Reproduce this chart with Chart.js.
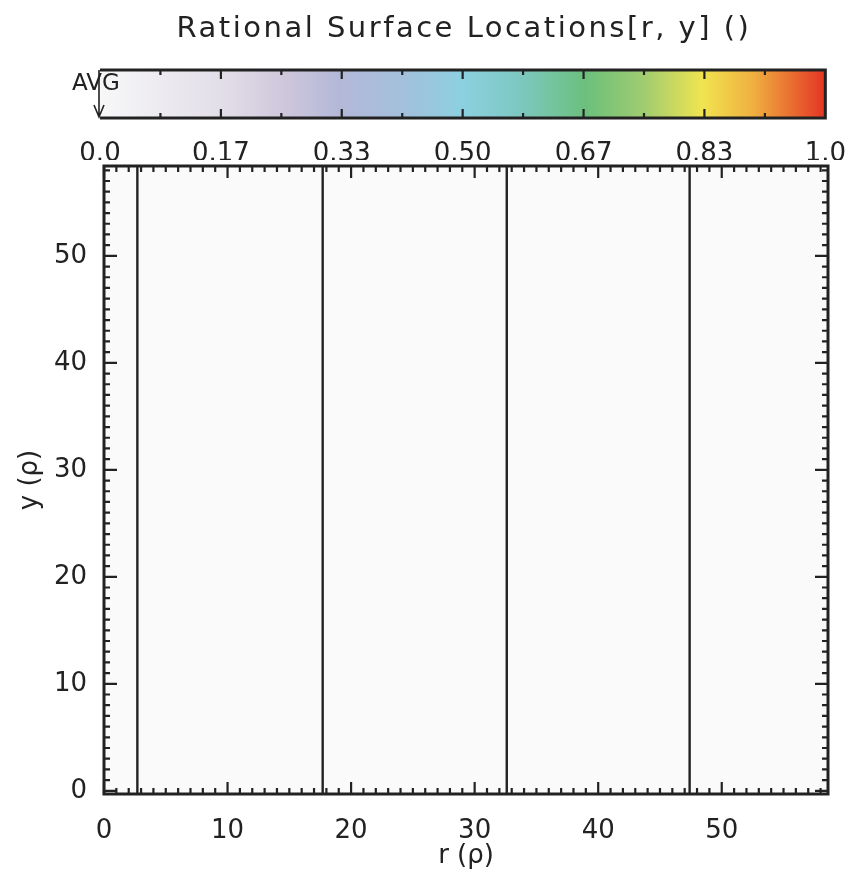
<!DOCTYPE html>
<html>
<head>
<meta charset="utf-8">
<script src="https://cdn.jsdelivr.net/npm/chart.js@4.4.0/dist/chart.umd.min.js"></script>
<style>
  html, body { margin: 0; padding: 0; background: #fff; }
  #wrap { position: relative; width: 859px; height: 873px; }
  canvas { position: absolute; left: 0; top: 0; }
</style>
</head>
<body>
<div id="wrap">
  <canvas id="mainChart" width="859" height="873"></canvas>
  <canvas id="barChart" width="859" height="160"></canvas>
</div>
<script>
// rational surface positions along r (rho)
const rationalR = [2.7, 17.7, 32.6, 47.4];
const rRange = [0, 58.6];
const yRange = [-0.3, 58.4];
const rTicks = [0, 10, 20, 30, 40, 50];
const yTicks = [0, 10, 20, 30, 40, 50];

// colour bar
const barTicks = [0, 0.1667, 0.3333, 0.5, 0.6667, 0.8333, 1];
const barTickLabels = ['0.0', '0.17', '0.33', '0.50', '0.67', '0.83', '1.0'];
const barMinorTicks = [0.0833, 0.25, 0.4167, 0.5833, 0.75, 0.9167];
const barStops = [0, 0.17, 0.25, 0.33, 0.42, 0.5, 0.58, 0.67, 0.75, 0.83, 0.9, 1];
const barColors = ['#f7f7f8', '#e2dee8', '#d0c8dc', '#b4b8d8', '#a2c0dc', '#8cd0e0',
  '#7cc8c0', '#6cc07c', '#a0cc70', '#f0e450', '#f0b040', '#e43424'];
const avgValue = 0;

const INK = '#222';
const FONT = 'DejaVu Sans';

// the IDL-style labels are spaced out a little
const spacing = (px) => ({
  id: 'spacing',
  beforeDraw(chart) { chart.ctx.letterSpacing = px; },
  beforeDatasetsDraw(chart) { chart.ctx.letterSpacing = '0px'; },
});

const frameAndTicks = {
  id: 'frameAndTicks',
  beforeDraw(chart) {
    const { ctx, chartArea: a } = chart;
    ctx.save();
    ctx.fillStyle = '#fafafa';
    ctx.fillRect(a.left, a.top, a.right - a.left, a.bottom - a.top);
    ctx.restore();
  },
  afterDraw(chart) {
    const { ctx, chartArea: a, scales } = chart;
    ctx.save();
    ctx.strokeStyle = INK;
    ctx.lineWidth = 2.2;
    const x = scales.x;
    const y = scales.y;
    for (let v = Math.ceil(x.min); v <= x.max; v += 1) {
      const px = x.getPixelForValue(v);
      const len = v % 10 === 0 ? 12 : 6;
      ctx.beginPath();
      ctx.moveTo(px, a.bottom); ctx.lineTo(px, a.bottom - len);
      ctx.moveTo(px, a.top); ctx.lineTo(px, a.top + len);
      ctx.stroke();
    }
    for (let v = Math.ceil(y.min); v <= y.max; v += 1) {
      const py = y.getPixelForValue(v);
      const len = v % 10 === 0 ? 13 : 6;
      ctx.beginPath();
      ctx.moveTo(a.left, py); ctx.lineTo(a.left + len, py);
      ctx.moveTo(a.right, py); ctx.lineTo(a.right - len, py);
      ctx.stroke();
    }
    ctx.lineWidth = 3;
    ctx.strokeRect(a.left, a.top, a.right - a.left, a.bottom - a.top);
    ctx.restore();
  },
};

new Chart(document.getElementById('mainChart'), {
  type: 'line',
  data: {
    datasets: rationalR.map((r) => ({
      data: [{ x: r, y: yRange[0] }, { x: r, y: yRange[1] }],
      borderColor: INK,
      borderWidth: 2.4,
      pointRadius: 0,
    })),
  },
  options: {
    responsive: false,
    animation: false,
    layout: { padding: { top: 166, right: 31, left: 0, bottom: 0 } },
    plugins: { legend: { display: false }, tooltip: { enabled: false } },
    scales: {
      x: {
        type: 'linear',
        min: rRange[0],
        max: rRange[1],
        afterBuildTicks: (s) => { s.ticks = rTicks.map((v) => ({ value: v })); },
        afterFit: (s) => { s.height = 79; },
        grid: { display: false },
        border: { display: false },
        ticks: { color: INK, font: { family: FONT, size: 26 }, padding: 14, maxRotation: 0 },
        title: { display: true, text: 'r (ρ)', color: INK, font: { family: FONT, size: 26 }, padding: { bottom: 1 } },
      },
      y: {
        type: 'linear',
        min: yRange[0],
        max: yRange[1],
        afterBuildTicks: (s) => { s.ticks = yTicks.map((v) => ({ value: v })); },
        afterFit: (s) => { s.width = 104; },
        grid: { display: false },
        border: { display: false },
        ticks: { color: INK, font: { family: FONT, size: 26 }, padding: 9 },
        title: { display: true, text: 'y (ρ)', color: INK, font: { family: FONT, size: 26 }, padding: { top: 15 } },
      },
    },
  },
  plugins: [frameAndTicks],
});

const colourBar = {
  id: 'colourBar',
  beforeDatasetsDraw(chart) {
    const { ctx, chartArea: a, scales } = chart;
    const x = scales.x;
    const g = ctx.createLinearGradient(x.getPixelForValue(0), 0, x.getPixelForValue(1), 0);
    barStops.forEach((s, i) => g.addColorStop(s, barColors[i]));
    ctx.save();
    ctx.fillStyle = g;
    ctx.fillRect(a.left, a.top, a.right - a.left, a.bottom - a.top);
    ctx.restore();
  },
  afterDraw(chart) {
    const { ctx, chartArea: a, scales } = chart;
    const x = scales.x;
    ctx.save();
    ctx.strokeStyle = INK;
    ctx.lineWidth = 2.2;
    const tick = (v, len) => {
      const px = x.getPixelForValue(v);
      ctx.beginPath();
      ctx.moveTo(px, a.top); ctx.lineTo(px, a.top + len);
      ctx.moveTo(px, a.bottom); ctx.lineTo(px, a.bottom - len);
      ctx.stroke();
    };
    barTicks.slice(1, -1).forEach((v) => tick(v, 9));
    barMinorTicks.forEach((v) => tick(v, 5));
    ctx.lineWidth = 3;
    ctx.beginPath();
    ctx.moveTo(a.left, a.top); ctx.lineTo(a.right, a.top);
    ctx.lineTo(a.right, a.bottom); ctx.lineTo(a.left, a.bottom);
    ctx.stroke();
    // AVG marker
    const ax = x.getPixelForValue(avgValue) - 1;
    ctx.lineWidth = 1.6;
    ctx.beginPath();
    ctx.moveTo(ax, a.top); ctx.lineTo(ax, a.bottom - 1);
    ctx.moveTo(ax - 5, a.bottom - 13); ctx.lineTo(ax, a.bottom - 1); ctx.lineTo(ax + 5, a.bottom - 13);
    ctx.stroke();
    ctx.fillStyle = INK;
    ctx.font = `23px "${FONT}"`;
    ctx.textAlign = 'left';
    ctx.textBaseline = 'middle';
    ctx.fillText('AVG', 72, 84);
    ctx.restore();
  },
};

new Chart(document.getElementById('barChart'), {
  type: 'line',
  data: { datasets: [{ data: [] }] },
  options: {
    responsive: false,
    animation: false,
    layout: { padding: { top: 0, right: 31, left: 100, bottom: 0 } },
    plugins: {
      legend: { display: false },
      tooltip: { enabled: false },
      title: {
        display: true,
        text: 'Rational Surface Locations[r, y] ()',
        color: INK,
        font: { family: FONT, size: 29, weight: 'normal' },
        padding: { top: 12, bottom: 23.2 },
      },
    },
    scales: {
      x: {
        type: 'linear',
        min: 0,
        max: 1,
        afterBuildTicks: (s) => { s.ticks = barTicks.map((v) => ({ value: v })); },
        afterFit: (s) => { s.height = 42; },
        grid: { display: false },
        border: { display: false },
        ticks: {
          z: 1,
          color: INK,
          font: { family: FONT, size: 26 },
          padding: 13,
          maxRotation: 0,
          autoSkip: false,
          callback: (v, i) => barTickLabels[i],
        },
      },
      y: { display: false, min: 0, max: 1 },
    },
  },
  plugins: [spacing('2.5px'), colourBar],
});
</script>
</body>
</html>
